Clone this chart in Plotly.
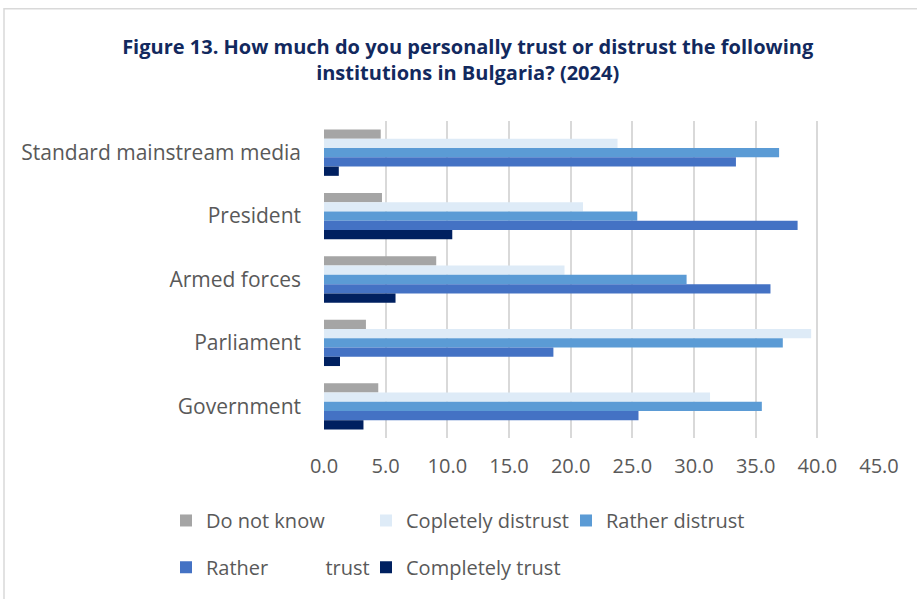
import plotly.graph_objects as go

categories = ["Standard mainstream media", "President", "Armed forces", "Parliament", "Government"]
series_names = ["Do not know", "Copletely distrust", "Rather distrust",
                "Rather" + "\u00a0" * 11 + "trust", "Completely trust"]
do_not_know = [4.6, 4.7, 9.1, 3.4, 4.4]
completely_distrust = [23.8, 21.0, 19.5, 39.5, 31.3]
rather_distrust = [36.9, 25.4, 29.4, 37.2, 35.5]
rather_trust = [33.4, 38.4, 36.2, 18.6, 25.5]
completely_trust = [1.2, 10.4, 5.8, 1.3, 3.2]
colors = ["#A5A5A5", "#DEEBF7", "#5B9BD5", "#4472C4", "#002060"]
legend_ids = ["legend", "legend", "legend", "legend2", "legend2"]
x_ticks = [0, 5, 10, 15, 20, 25, 30, 35, 40, 45]

values = [do_not_know, completely_distrust, rather_distrust, rather_trust, completely_trust]

FONT = "Open Sans"
FS = 20
fig = go.Figure()
for name, vals, col, lg in zip(series_names, values, colors, legend_ids):
    fig.add_trace(go.Bar(
        y=categories, x=vals, name=name, orientation="h",
        marker=dict(color=col, line=dict(width=0)),
        legend=lg,
    ))

# plot-area pixel geometry
L, R, T, B = 324, 879, 121, 440
W, H = 917, 599
def px(x):
    return (x - L) / (R - L)
def py(y):
    return (B - y) / (B - T)

leg_common = dict(
    orientation="h", x=px(166), xanchor="left", yanchor="middle",
    entrywidth=155, entrywidthmode="pixels", font=dict(size=FS, color="#595959"),
    bgcolor="rgba(0,0,0,0)", traceorder="normal",
)

fig.update_layout(
    width=W, height=H,
    margin=dict(l=L, r=W - R, t=T, b=H - B),
    paper_bgcolor="white", plot_bgcolor="white",
    barmode="group", bargap=0.27, bargroupgap=0,
    font=dict(family=FONT, color="#595959", size=FS),
    title=dict(
        text="Figure 13. How much do you personally trust or distrust the following<br>institutions in Bulgaria? (2024)",
        x=0.51, xanchor="center", y=1 - 54 / H, yanchor="middle",
        font=dict(family=FONT, size=20, color="#12295E", weight="bold"),
    ),
    xaxis=dict(
        range=[0, 45], tickvals=x_ticks, tickformat=".1f",
        showgrid=True, gridcolor="#D9D9D9", gridwidth=1.5,
        zeroline=False, showline=False, ticks="", ticklabelstandoff=14,
        tickfont=dict(size=FS, color="#595959"),
    ),
    yaxis=dict(
        categoryorder="array", categoryarray=categories,
        autorange="reversed", showgrid=False, zeroline=False,
        showline=False, ticks="", ticklabelstandoff=22,
        tickfont=dict(size=21, color="#595959"),
    ),
    legend=dict(leg_common, y=py(523)),
    legend2=dict(leg_common, y=py(570)),
    shapes=[dict(
        type="rect", xref="paper", yref="paper",
        x0=px(4), x1=px(940), y0=py(8), y1=py(640),
        line=dict(color="#D9D9D9", width=1.5), fillcolor="rgba(0,0,0,0)", layer="below",
    )],
)

fig.write_html("out.html")
